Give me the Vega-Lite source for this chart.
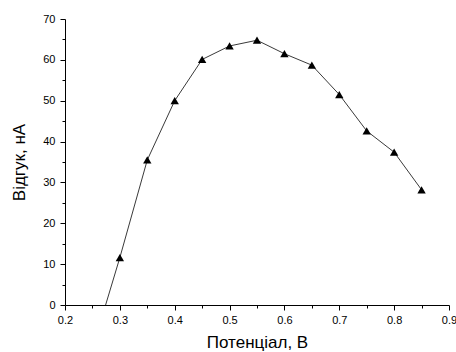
{
  "$schema": "https://vega.github.io/schema/vega-lite/v6.json",
  "autosize": "none",
  "width": 384,
  "height": 286,
  "padding": {"left": 65, "top": 19, "right": 7, "bottom": 47},
  "background": "white",
  "config": {
    "view": {"stroke": null},
    "font": "Liberation Sans",
    "axis": {
      "domainColor": "black",
      "tickColor": "black",
      "labelColor": "black",
      "titleColor": "black",
      "labelFont": "Liberation Sans",
      "titleFont": "Liberation Sans",
      "labelFontSize": 11,
      "titleFontSize": 17,
      "titleFontWeight": "normal",
      "grid": false,
      "domainWidth": 1,
      "tickWidth": 1
    }
  },
  "data": {
    "values": [
      {"potential": 0.274, "response": 0},
      {"potential": 0.3, "response": 11.6},
      {"potential": 0.35, "response": 35.5},
      {"potential": 0.4, "response": 50.0},
      {"potential": 0.45, "response": 60.1},
      {"potential": 0.5, "response": 63.4},
      {"potential": 0.55, "response": 64.8},
      {"potential": 0.6, "response": 61.5},
      {"potential": 0.65, "response": 58.7},
      {"potential": 0.7, "response": 51.5},
      {"potential": 0.75, "response": 42.6},
      {"potential": 0.8, "response": 37.4},
      {"potential": 0.85, "response": 28.2}
    ]
  },
  "encoding": {
    "x": {
      "field": "potential",
      "type": "quantitative",
      "scale": {"domain": [0.2, 0.9], "nice": false, "zero": false},
      "axis": {
        "title": "Потенціал, В",
        "values": [0.2, 0.25, 0.3, 0.35, 0.4, 0.45, 0.5, 0.55, 0.6, 0.65, 0.7, 0.75, 0.8, 0.85, 0.9],
        "labelExpr": "round(datum.value*100) % 10 == 0 ? format(datum.value, '.1f') : ''",
        "tickSize": {"condition": {"test": "round(datum.value*100) % 10 == 0", "value": 5}, "value": 3},
        "labelPadding": 4,
        "titlePadding": 9,
        "labelFlush": false,
        "labelOverlap": false
      }
    },
    "y": {
      "field": "response",
      "type": "quantitative",
      "scale": {"domain": [0, 70], "nice": false},
      "axis": {
        "title": "Відгук, нА",
        "values": [0, 5, 10, 15, 20, 25, 30, 35, 40, 45, 50, 55, 60, 65, 70],
        "labelExpr": "datum.value % 10 == 0 ? format(datum.value, 'd') : ''",
        "tickSize": {"condition": {"test": "datum.value % 10 == 0", "value": 5}, "value": 3},
        "labelPadding": 5,
        "titlePadding": 14,
        "labelFlush": false,
        "labelOverlap": false
      }
    }
  },
  "layer": [
    {
      "mark": {"type": "line", "color": "#3a3a3a", "strokeWidth": 1}
    },
    {
      "transform": [{"filter": "datum.potential >= 0.3"}],
      "mark": {"type": "point", "shape": "triangle-up", "filled": true, "color": "black", "opacity": 1, "size": 70}
    }
  ]
}
